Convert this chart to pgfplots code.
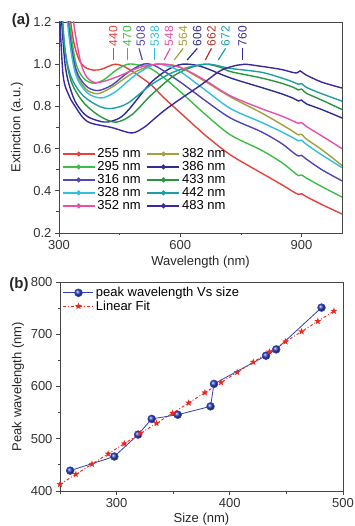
\documentclass[border=0pt]{standalone}
\usepackage{fontspec}
\setmainfont{Liberation Sans}
\usepackage{pgfplots}
\pgfplotsset{compat=1.18}

\definecolor{c255}{RGB}{232,64,58}
\definecolor{c295}{RGB}{60,190,70}
\definecolor{c316}{RGB}{80,70,180}
\definecolor{c328}{RGB}{50,190,220}
\definecolor{c352}{RGB}{230,80,170}
\definecolor{c382}{RGB}{160,160,60}
\definecolor{c386}{RGB}{45,45,150}
\definecolor{c433}{RGB}{40,150,60}
\definecolor{c442}{RGB}{30,160,160}
\definecolor{c483}{RGB}{60,40,160}
\definecolor{c662l}{RGB}{170,50,40}
\definecolor{bluepts}{RGB}{45,65,180}
\definecolor{redfit}{RGB}{235,40,30}
\definecolor{framec}{RGB}{70,70,70}

\pgfdeclareplotmark{fstar}{%
 \pgfpathmoveto{\pgfpointpolar{90}{\pgfplotmarksize}}%
 \pgfpathlineto{\pgfpointpolar{126}{0.42\pgfplotmarksize}}%
 \pgfpathlineto{\pgfpointpolar{162}{\pgfplotmarksize}}%
 \pgfpathlineto{\pgfpointpolar{198}{0.42\pgfplotmarksize}}%
 \pgfpathlineto{\pgfpointpolar{234}{\pgfplotmarksize}}%
 \pgfpathlineto{\pgfpointpolar{270}{0.42\pgfplotmarksize}}%
 \pgfpathlineto{\pgfpointpolar{306}{\pgfplotmarksize}}%
 \pgfpathlineto{\pgfpointpolar{342}{0.42\pgfplotmarksize}}%
 \pgfpathlineto{\pgfpointpolar{18}{\pgfplotmarksize}}%
 \pgfpathlineto{\pgfpointpolar{54}{0.42\pgfplotmarksize}}%
 \pgfpathclose
 \pgfusepathqfill}

\pgfplotsset{
  origin/.style={
    scale only axis,
    axis line style={framec, line width=0.8pt},
    tick style={framec, line width=0.8pt},
    tick align=outside,
    xtick pos=left, ytick pos=left,
    major tick length=4pt, minor tick length=2.5pt,
    /pgf/number format/assume math mode=true,
    tick label style={font=\fontsize{13}{15}\selectfont, text=black!80},
    label style={font=\fontsize{13}{15}\selectfont, text=black!85},
  }
}

\begin{document}
\begin{tikzpicture}
\useasboundingbox (0pt,0pt) rectangle (354pt,526pt);

% ---------------- (a) ----------------
\begin{axis}[origin,
  at={(59pt,293pt)}, anchor=south west,
  width=283pt, height=211pt,
  xmin=300, xmax=1000, ymin=0.2, ymax=1.2,
  xtick={300,600,900}, minor xtick={450,750},
  ytick={0.2,0.4,0.6,0.8,1.0,1.2}, minor ytick={0.3,0.5,0.7,0.9,1.1},
  yticklabel style={/pgf/number format/.cd, fixed, fixed zerofill, precision=1},
  xlabel={Wavelength (nm)}, ylabel={Extinction (a.u.)},
  xlabel style={at={(axis description cs:0.5,-0.137)}, anchor=center},
  ylabel style={at={(axis description cs:-0.148,0.5)}, anchor=center},
  legend columns=2,
  legend cell align=left,
  legend style={draw=none, fill=none, font=\fontsize{13}{14}\selectfont,
    at={(0.01,0.41)}, anchor=north west, inner sep=0pt, row sep=-1.6pt,
    /tikz/column 2/.style={column sep=4pt}},
  legend image code/.code={\draw[#1] (0pt,0pt) -- (32pt,0pt); \fill[#1] (16pt,0pt) circle (1.7pt);},
  every axis plot/.append style={line width=1.4pt, smooth},
]
\addplot[c255] coordinates {(300,1.8)(320,1.35)(335,1.12)(350,1.02)(365,0.985)(385,0.972)(405,0.976)(425,0.992)(440,1.0)(460,0.99)(490,0.955)(526,0.905)(560,0.84)(600,0.77)(640,0.70)(667,0.655)(724,0.57)(800,0.485)(850,0.43)(880,0.395)(892,0.383)(900,0.386)(912,0.372)(950,0.335)(1000,0.29)};
\addlegendentry{255 nm}
\addplot[c382] coordinates {(300,1.8)(320,1.25)(340,0.98)(365,0.885)(395,0.86)(430,0.89)(480,0.955)(530,0.995)(564,1.0)(600,0.985)(660,0.92)(724,0.845)(800,0.77)(850,0.715)(880,0.68)(892,0.665)(900,0.668)(912,0.645)(950,0.595)(1000,0.52)};
\addlegendentry{382 nm}
\addplot[c295] coordinates {(300,1.8)(320,1.3)(340,1.02)(360,0.935)(385,0.91)(410,0.925)(440,0.97)(470,1.0)(500,0.995)(526,0.98)(560,0.935)(600,0.87)(660,0.765)(724,0.665)(800,0.593)(850,0.535)(880,0.49)(892,0.472)(900,0.475)(912,0.46)(950,0.42)(1000,0.37)};
\addlegendentry{295 nm}
\addplot[c386] coordinates {(300,1.4)(315,1.0)(335,0.845)(355,0.78)(372,0.75)(400,0.73)(421,0.726)(450,0.745)(475,0.79)(526,0.91)(570,0.975)(606,1.0)(650,0.99)(724,0.935)(800,0.89)(850,0.86)(880,0.838)(892,0.826)(900,0.83)(912,0.812)(950,0.785)(1000,0.745)};
\addlegendentry{386 nm}
\addplot[c316] coordinates {(300,1.8)(320,1.25)(340,0.99)(365,0.9)(395,0.875)(430,0.9)(470,0.96)(508,1.0)(540,0.99)(600,0.915)(660,0.83)(724,0.745)(800,0.68)(850,0.625)(880,0.58)(892,0.565)(900,0.568)(912,0.55)(950,0.50)(1000,0.447)};
\addlegendentry{316 nm}
\addplot[c433] coordinates {(300,1.5)(313,1.1)(330,0.92)(360,0.82)(400,0.755)(440,0.725)(480,0.76)(526,0.85)(580,0.94)(620,0.98)(662,1.0)(700,0.985)(724,0.965)(800,0.935)(850,0.91)(880,0.89)(892,0.878)(900,0.882)(912,0.862)(950,0.83)(1000,0.785)};
\addlegendentry{433 nm}
\addplot[c328] coordinates {(300,1.8)(320,1.22)(340,0.96)(370,0.865)(405,0.84)(440,0.87)(490,0.95)(538,1.0)(570,0.99)(600,0.965)(660,0.88)(724,0.79)(800,0.725)(850,0.68)(880,0.65)(892,0.637)(900,0.64)(912,0.62)(950,0.57)(1000,0.51)};
\addlegendentry{328 nm}
\addplot[c442] coordinates {(300,1.5)(313,1.1)(330,0.94)(360,0.85)(400,0.8)(430,0.79)(470,0.815)(526,0.9)(580,0.96)(630,0.99)(672,1.0)(724,0.98)(800,0.962)(850,0.935)(880,0.915)(892,0.905)(900,0.908)(912,0.89)(950,0.86)(1000,0.825)};
\addlegendentry{442 nm}
\addplot[c352] coordinates {(300,2.0)(330,1.3)(350,1.04)(365,0.95)(385,0.915)(410,0.918)(450,0.945)(500,0.985)(548,1.0)(600,0.985)(660,0.925)(724,0.85)(800,0.79)(850,0.755)(880,0.73)(892,0.72)(900,0.723)(912,0.705)(950,0.66)(1000,0.6)};
\addlegendentry{352 nm}
\addplot[c483] coordinates {(300,1.3)(310,0.95)(325,0.85)(340,0.8)(360,0.745)(380,0.72)(430,0.70)(480,0.674)(510,0.70)(526,0.725)(560,0.78)(600,0.835)(650,0.9)(700,0.97)(740,0.995)(760,1.0)(800,0.99)(850,0.975)(880,0.96)(890,0.96)(897,0.968)(910,0.95)(950,0.915)(1000,0.887)};
\addlegendentry{483 nm}

% peak labels
\begin{scope}[every node/.style={rotate=90, anchor=west, inner sep=0pt, font=\fontsize{12}{13}\selectfont}]
\node[text=c255] at (axis cs:434,1.085) {440};
\node[text=c295] at (axis cs:469,1.085) {470};
\node[text=c316] at (axis cs:502,1.085) {508};
\node[text=c328] at (axis cs:537,1.085) {538};
\node[text=c352] at (axis cs:572,1.085) {548};
\node[text=c382] at (axis cs:607,1.085) {564};
\node[text=c386] at (axis cs:642,1.085) {606};
\node[text=c662l] at (axis cs:677,1.085) {662};
\node[text=c442] at (axis cs:712,1.085) {672};
\node[text=c483] at (axis cs:754,1.085) {760};
\end{scope}
\begin{scope}[line width=1.2pt]
\draw[c255] (axis cs:434,1.075) -- (axis cs:434,1.02);
\draw[c295] (axis cs:469,1.075) -- (axis cs:469,1.02);
\draw[c316] (axis cs:498,1.075) -- (axis cs:506,1.02);
\draw[c328] (axis cs:537,1.075) -- (axis cs:537,1.02);
\draw[c352] (axis cs:575,1.075) -- (axis cs:560,1.02);
\draw[c382] (axis cs:607,1.075) -- (axis cs:585,1.02);
\draw[c386] (axis cs:642,1.075) -- (axis cs:617,1.02);
\draw[c662l] (axis cs:677,1.075) -- (axis cs:662,1.02);
\draw[c442] (axis cs:712,1.075) -- (axis cs:694,1.02);
\draw[c483] (axis cs:754,1.075) -- (axis cs:754,1.02);
\end{scope}
\end{axis}

% ---------------- (b) ----------------
\begin{axis}[origin,
  at={(60pt,35pt)}, anchor=south west,
  width=283pt, height=209pt,
  xmin=250, xmax=500, ymin=400, ymax=800,
  xtick={300,400,500}, minor xtick={250,350,450},
  ytick={400,500,600,700,800}, minor ytick={450,550,650,750},
  xlabel={Size (nm)}, ylabel={Peak wavelength (nm)},
  xlabel style={at={(axis description cs:0.5,-0.134)}, anchor=center},
  ylabel style={at={(axis description cs:-0.148,0.5)}, anchor=center},
  legend cell align=left,
  legend style={draw=none, fill=none, font=\fontsize{13}{14}\selectfont,
    at={(0.01,0.985)}, anchor=north west, inner sep=0pt, row sep=-1.5pt},
  legend image code/.code={\draw[mark repeat=2,mark phase=2,#1] plot coordinates {(0pt,0pt) (15pt,0pt) (30pt,0pt)};},
]
\addplot[color=bluepts, line width=0.8pt, mark=ball, mark size=3.8pt, mark options={ball color=bluepts}]
 coordinates {(259,439)(298,466)(319,508)(331,538)(354,546)(383,562)(386,605)(432,659)(441,671)(481,751)};
\addlegendentry{peak wavelength Vs size}
\addplot[color=redfit, line width=0.9pt, dash pattern=on 3pt off 2pt on 1pt off 2pt, mark=fstar, mark size=3.6pt, mark options={solid, fill=redfit}]
 coordinates {(250,412.8)(264,432.0)(278.25,451.5)(292.5,471.0)(306.75,490.6)(321,510.1)(335.25,529.6)(349.5,549.1)(363.75,568.7)(378,588.2)(392.25,607.7)(406.5,627.2)(420.75,646.7)(435,666.3)(449.25,685.8)(463.5,705.3)(477.75,724.8)(492,744.4)};
\addlegendentry{Linear Fit}
\end{axis}

\node[font=\bfseries\fontsize{15}{16}\selectfont, text=black!85] at (21pt,505pt) {(a)};
\node[font=\bfseries\fontsize{15}{16}\selectfont, text=black!85] at (19pt,241pt) {(b)};
\end{tikzpicture}
\end{document}
